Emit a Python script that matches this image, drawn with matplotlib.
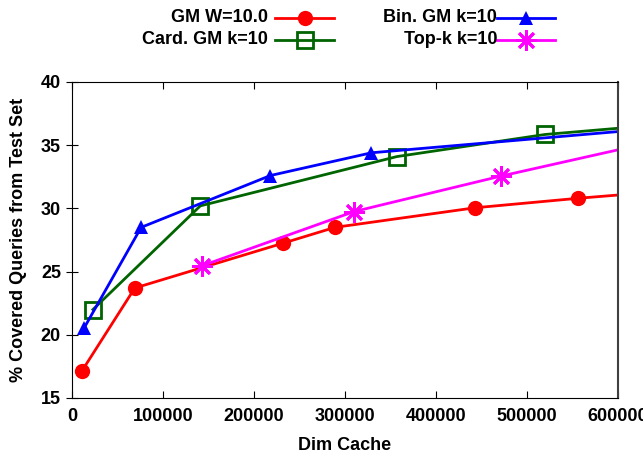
import numpy as np
import matplotlib.pyplot as plt
from matplotlib.lines import Line2D

plt.rcParams['font.family'] = ['Liberation Sans', 'DejaVu Sans']
plt.rcParams['font.weight'] = 'bold'
plt.rcParams['axes.labelweight'] = 'bold'
plt.rcParams['font.size'] = 13

# dati (l'ultimo punto di ogni serie cade oltre 600000 e viene tagliato)
gm_x = [11000, 69000, 232000, 289000, 443000, 556000, 667000]
gm_y = [17.15, 23.7, 27.25, 28.5, 30.05, 30.8, 31.45]

bin_x = [13000, 76000, 218000, 329000, 660000]
bin_y = [20.5, 28.5, 32.6, 34.4, 36.45]

card_x = [23000, 141000, 357000, 520000, 700000]
card_y = [22.0, 30.2, 34.1, 35.85, 36.95]

topk_x = [142500, 310000, 471000, 632000]
topk_y = [25.45, 29.75, 32.55, 35.15]

labels = ['GM W=10.0', 'Bin. GM k=10', 'Card. GM k=10', 'Top-k k=10']
colors = ['#ff0000', '#0000ff', '#006400', '#ff00ff']

fig = plt.figure(figsize=(6.43, 4.53), dpi=100)
ax = fig.add_axes([72/643, 1-398/453, 546/643, 316/453])

lw = 2.0
star = (8, 2, 0)
styles = [
    dict(color=colors[0], marker='o', markersize=11, markeredgewidth=0),
    dict(color=colors[1], marker='^', markersize=10, markeredgewidth=0),
    dict(color=colors[2], marker='s', markersize=12, markerfacecolor='none', markeredgewidth=2),
    dict(color=colors[3], marker=star, markersize=15, markeredgewidth=2),
]

ax.plot(gm_x, gm_y, lw=lw, **styles[0])
ax.plot(card_x, card_y, lw=lw, **styles[2])
ax.plot(bin_x, bin_y, lw=lw, **styles[1])
ax.plot(topk_x, topk_y, lw=lw, **styles[3])

ax.set_xlim(0, 600000)
ax.set_ylim(15, 40)
ax.set_xticks(np.arange(0, 600001, 100000))
ax.set_yticks(np.arange(15, 41, 5))
ax.tick_params(axis='x', direction='in', length=5, top=True, pad=7)
ax.tick_params(axis='y', direction='inout', length=8, right=False, pad=4)
ax.spines['right'].set_color('#404040')
ax.spines['right'].set_linewidth(1.5)

ax.set_xlabel('Dim Cache', fontsize=13, labelpad=9)
ax.set_ylabel('% Covered Queries from Test Set', fontsize=13, labelpad=10)

# legenda in stile gnuplot: testo allineato a destra, poi il campione
W, H = 643, 453
legend_pos = [(268, 275, 334, 18), (497, 497, 555, 18), (268, 275, 334, 40), (497, 497, 555, 40)]
for i, (tx, x0, x1, y) in enumerate(legend_pos):
    fy = 1 - y / H
    fig.text(tx / W, fy, labels[i], ha='right', va='center', fontsize=13)
    fig.add_artist(Line2D([x0 / W, x1 / W], [fy, fy], transform=fig.transFigure,
                          color=colors[i], lw=lw))
    st = dict(styles[i])
    fig.add_artist(Line2D([(x0 + x1) / 2 / W], [fy], transform=fig.transFigure,
                          linestyle='none', **st))

fig.savefig('out.png', dpi=100)
